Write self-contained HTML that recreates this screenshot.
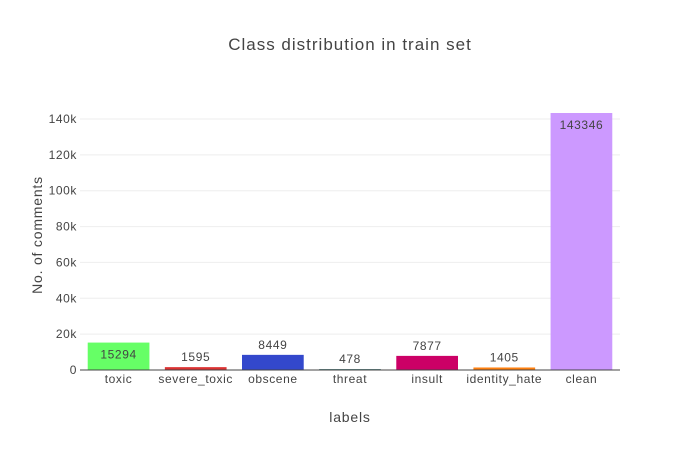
<!DOCTYPE html>
<html><head><meta charset="utf-8"><style>
body{margin:0;background:#fff;font-family:"Liberation Sans",sans-serif}
svg text{font-family:"Liberation Sans",sans-serif;fill:#444}
</style></head><body>
<svg id="c" width="700" height="450"></svg>
<script>
const categories=["toxic","severe_toxic","obscene","threat","insult","identity_hate","clean"];
const counts=[15294,1595,8449,478,7877,1405,143346];
const colors=["#66ff66","#dc3232","#3348cc","#2f6b6b","#cc0066","#ff8010","#cc99ff"];
const yTicks=[0,20000,40000,60000,80000,100000,120000,140000];
const yTickLabels=["0","20k","40k","60k","80k","100k","120k","140k"];
const NS="http://www.w3.org/2000/svg";
const svg=document.getElementById('c');
const L=80,R=620,T=100,B=370;
const y=v=>B-v/140000*251;
const band=(R-L)/categories.length;
const x=i=>L+band*(i+0.5);
function mk(t,a,txt){const e=document.createElementNS(NS,t);for(const k in a)e.setAttribute(k,a[k]);if(txt!==undefined)e.textContent=txt;svg.appendChild(e);return e;}
yTicks.forEach((v,i)=>{
  if(v>0){const g=mk('line',{x1:L,x2:R,y1:y(v),y2:y(v),stroke:'#eee','stroke-width':1});
  
  }
  const t=mk('text',{x:L-3,y:y(v)+4,'text-anchor':'end','font-size':12,'letter-spacing':'0.6'},yTickLabels[i]);
  
  
});
categories.forEach((c,i)=>{
  const w=band*0.8,h=B-y(counts[i]);
  const r=mk('rect',{x:x(i)-w/2,y:y(counts[i]),width:w,height:Math.max(h,1),fill:colors[i]});
  
  
  const inside=h>25;
  const lt=mk('text',{x:x(i),y:inside?y(counts[i])+16:y(counts[i])-6,'text-anchor':'middle','font-size':12,'letter-spacing':'0.6'},String(counts[i]));
  
  
  const xt=mk('text',{x:x(i),y:B+13,'text-anchor':'middle','font-size':12,'letter-spacing':'0.6'},c);
  
  
});
const ax=mk('line',{x1:L,x2:R,y1:B,y2:B,stroke:'#444','stroke-width':1});


const ti=mk('text',{x:350,y:50,'text-anchor':'middle','font-size':17,'letter-spacing':'1'},'Class distribution in train set');


const xl=mk('text',{x:350,y:422,'text-anchor':'middle','font-size':14,'letter-spacing':'0.8'},'labels');


const yl=mk('text',{x:42,y:235,'text-anchor':'middle','font-size':14,'letter-spacing':'0.8',transform:'rotate(-90 42 235)'},'No. of comments');


</script>
</body></html>
